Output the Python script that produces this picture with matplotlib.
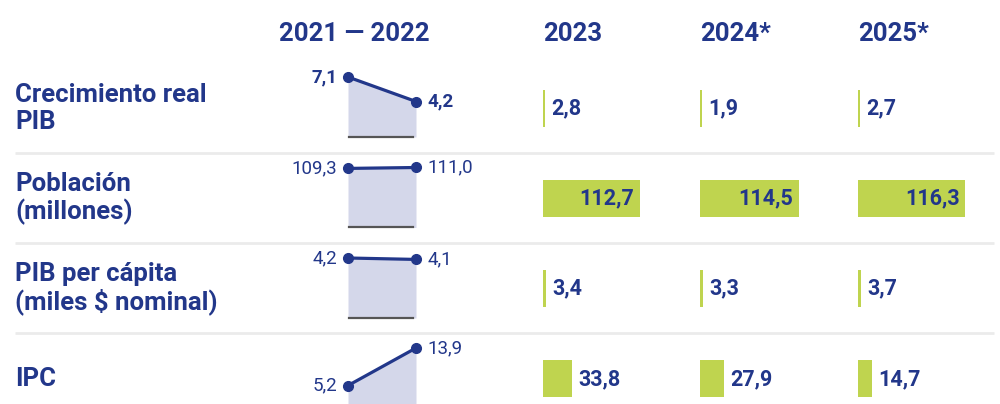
import matplotlib
matplotlib.use("Agg")
import matplotlib.pyplot as plt

# datos
indicadores = ["Crecimiento real\nPIB", "Población\n(millones)",
               "PIB per cápita\n(miles $ nominal)", "IPC"]
hist_2021 = [7.1, 109.3, 4.2, 5.2]
hist_2022 = [4.2, 111.0, 4.1, 13.9]
columnas = ["2023", "2024*", "2025*"]
val_2023 = [2.8, 112.7, 3.4, 33.8]
val_2024 = [1.9, 114.5, 3.3, 27.9]
val_2025 = [2.7, 116.3, 3.7, 14.7]

AZUL = "#22378a"
VERDE = "#bfd44f"
RELLENO = "#d4d7ea"
GRIS = "#ebebeb"

plt.rcParams["font.family"] = ["Roboto", "DejaVu Sans"]

W, H = 1000, 404
fig = plt.figure(figsize=(W / 100, H / 100), dpi=100)


def px_axes(x0, y0, x1, y1):
    # ejes a partir de coordenadas en pixeles (origen arriba a la izquierda)
    return fig.add_axes([x0 / W, 1 - y1 / H, (x1 - x0) / W, (y1 - y0) / H])


def fmt(v):
    return f"{v:.1f}".replace(".", ",")


# fondo: etiquetas de filas, cabeceras y separadores
bg = px_axes(0, 0, W, H)
bg.set_xlim(0, W)
bg.set_ylim(H, 0)
bg.axis("off")

centros = [108.5, 198.5, 288.5, 379]
for y, txt in zip(centros, indicadores):
    bg.text(15, y, txt, color=AZUL, fontsize=18.5, fontweight="bold",
            va="center", ha="left", linespacing=1.12)
bg.hlines([152.5, 243, 333], 15, 994, color=GRIS, lw=2)

bg.text(279, 34, "2021 — 2022", color=AZUL, fontsize=18.5, fontweight="bold",
        va="center", ha="left")
col_x = [543, 700, 858]
for x, c in zip(col_x, columnas):
    bg.text(x, 34, c, color=AZUL, fontsize=18.5, fontweight="bold",
            va="center", ha="left")

# sparklines 2021-2022
bases = [137, 227.5, 318, 408]
for i in range(4):
    ax = px_axes(348, bases[i] - 60, 416, bases[i])
    ys = [hist_2021[i], hist_2022[i]]
    ax.fill_between([0, 1], ys, 0, color=RELLENO, lw=0)
    ax.plot([0, 1], ys, color=AZUL, lw=2.3, marker="o", ms=7, clip_on=False)
    ax.set_xlim(0, 1)
    ax.set_ylim(0, max(ys))
    ax.set_xticks([])
    ax.set_yticks([])
    for s in ["top", "left", "right"]:
        ax.spines[s].set_visible(False)
    ax.spines["bottom"].set_color("#555555")
    ax.spines["bottom"].set_linewidth(1.6)
    ax.spines["bottom"].set_bounds(0.01, 0.96)
    ax.patch.set_visible(False)
    peso = "bold" if i == 0 else "normal"
    ax.annotate(fmt(ys[0]), (0, ys[0]), xytext=(-8, 0), textcoords="offset points",
                ha="right", va="center", color=AZUL, fontsize=13.5, fontweight=peso,
                annotation_clip=False)
    ax.annotate(fmt(ys[1]), (1, ys[1]), xytext=(8.5, 0), textcoords="offset points",
                ha="left", va="center", color=AZUL, fontsize=13.5, fontweight=peso,
                annotation_clip=False)

# barras por columna
series = [val_2023, val_2024, val_2025]
ancho_max = [97, 99, 107]  # pixeles de la barra mayor en cada columna
ancho_ax = 140
filas = list(range(4))
for x, vals, amax in zip(col_x, series, ancho_max):
    ax = px_axes(x, 108 - 45.15, x + ancho_ax, 379 + 45.15)
    ax.barh(filas, vals, height=37 / 90.3, color=VERDE, left=0)
    ax.set_xlim(0, max(vals) * ancho_ax / amax)
    ax.set_ylim(3.5, -0.5)
    ax.axis("off")
    for r, v in zip(filas, vals):
        dentro = v * amax / max(vals) > 60
        if dentro:
            ax.annotate(fmt(v), (v, r), xytext=(-4, 0), textcoords="offset points",
                        ha="right", va="center", color=AZUL, fontsize=15.5,
                        fontweight="bold")
        else:
            ax.annotate(fmt(v), (v, r), xytext=(4.5, 0), textcoords="offset points",
                        ha="left", va="center", color=AZUL, fontsize=15.5,
                        fontweight="bold")

fig.savefig("out.png", dpi=100)
